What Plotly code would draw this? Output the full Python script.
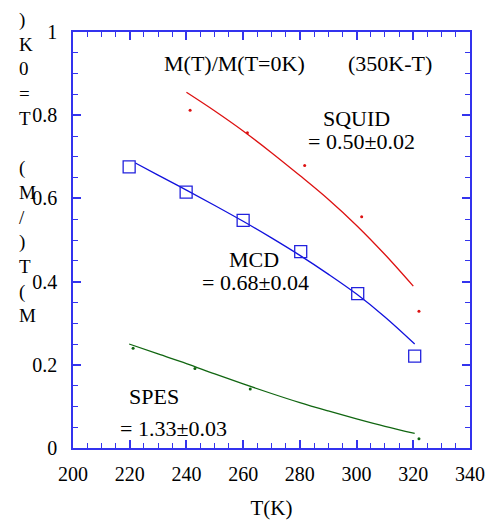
import plotly.graph_objects as go

# SQUID (red): fitted curve and scattered data dots
squid_line_T = [240, 250, 260, 270, 280, 290, 300, 310, 320]
squid_line_M = [0.855, 0.81, 0.762, 0.71, 0.655, 0.598, 0.535, 0.465, 0.389]
squid_dots_T = [241.3, 261.5, 281.7, 301.8, 322.0]
squid_dots_M = [0.812, 0.758, 0.679, 0.556, 0.329]

# MCD (blue): fitted curve and square markers
mcd_line_T = [222, 230, 240, 250, 260, 270, 280, 290, 300, 310, 320.5]
mcd_line_M = [0.685, 0.656, 0.62, 0.583, 0.545, 0.505, 0.463, 0.418, 0.37, 0.315, 0.25]
mcd_pts_T = [219.8, 239.9, 260.0, 280.3, 300.4, 320.5]
mcd_pts_M = [0.676, 0.615, 0.547, 0.472, 0.371, 0.221]

# SPES (green): fitted curve and data dots
spes_line_T = [219.8, 230, 240, 250, 260, 270, 280, 290, 300, 310, 320.5]
spes_line_M = [0.25, 0.226, 0.203, 0.178, 0.154, 0.131, 0.109, 0.089, 0.07, 0.052, 0.035]
spes_dots_T = [221.2, 243.0, 262.5, 322.0]
spes_dots_M = [0.240, 0.191, 0.142, 0.022]

x_ticks = [200, 220, 240, 260, 280, 300, 320, 340]
y_ticks = [0, 0.2, 0.4, 0.6, 0.8, 1]

# vertical, character-stacked y title as drawn in the reference (read bottom-up)
ytitle_chars = [")", "K", "0", "=", "T", "\u00a0", "(", "M", "/", ")", "T", "(", "M"]

FONT = "Times New Roman, Liberation Serif, DejaVu Serif, serif"
AXC = "#3333ee"

fig = go.Figure()
fig.add_trace(go.Scatter(x=squid_line_T, y=squid_line_M, mode="lines",
                         line=dict(color="#dd1111", width=1.3, shape="spline"), showlegend=False))
fig.add_trace(go.Scatter(x=squid_dots_T, y=squid_dots_M, mode="markers",
                         marker=dict(color="#dd1111", size=3), showlegend=False))
fig.add_trace(go.Scatter(x=mcd_line_T, y=mcd_line_M, mode="lines",
                         line=dict(color="#1111dd", width=1.3, shape="spline"), showlegend=False))
fig.add_trace(go.Scatter(x=mcd_pts_T, y=mcd_pts_M, mode="markers",
                         marker=dict(symbol="square-open", color="#2222dd", size=12,
                                     line=dict(width=1.3, color="#2222dd")), showlegend=False))
fig.add_trace(go.Scatter(x=spes_line_T, y=spes_line_M, mode="lines",
                         line=dict(color="#116611", width=1.3, shape="spline"), showlegend=False))
fig.add_trace(go.Scatter(x=spes_dots_T, y=spes_dots_M, mode="markers",
                         marker=dict(color="#116611", size=3), showlegend=False))

axis_common = dict(showline=True, linecolor=AXC, linewidth=1.5, mirror="allticks",
                   ticks="inside", tickcolor=AXC, ticklen=8, tickwidth=1.5,
                   showgrid=False, zeroline=False, automargin=False,
                   tickfont=dict(family=FONT, size=20, color="black"))

fig.update_xaxes(range=[200, 340], tickvals=x_ticks, ticklabelstandoff=7,
                 minor=dict(ticks="inside", dtick=5, ticklen=5, tickcolor=AXC, tickwidth=1.2),
                 title=dict(text="T(K)", font=dict(family=FONT, size=21, color="black"), standoff=17),
                 **axis_common)
fig.update_yaxes(range=[0, 1], tickvals=y_ticks, ticklabelstandoff=10,
                 minor=dict(ticks="inside", dtick=0.05, ticklen=5, tickcolor=AXC, tickwidth=1.2),
                 **axis_common)

ann_font = dict(family=FONT, size=22, color="black")
def ann(text, x, y):
    fig.add_annotation(text=text, x=x, y=y, xref="x", yref="y", showarrow=False,
                       font=ann_font, xanchor="center", yanchor="middle")

ann("M(T)/M(T=0K)", 257.1, 0.925)
ann("(350K-T)", 311.8, 0.925)
ann("SQUID", 300.1, 0.793)
ann("= 0.50±0.02", 301.6, 0.736)
ann("MCD", 263.8, 0.454)
ann("= 0.68±0.04", 264.5, 0.397)
ann("SPES", 228.6, 0.125)
ann("= 1.33±0.03", 235.6, 0.048)

fig.add_annotation(text="<br>".join(ytitle_chars), xref="paper", yref="paper",
                   x=-0.142, y=0.674, showarrow=False, xanchor="left", yanchor="middle",
                   align="left", font=dict(family=FONT, size=19, color="black"))

fig.update_layout(width=489, height=520, margin=dict(l=73, r=19, t=32, b=72),
                  plot_bgcolor="white", paper_bgcolor="white", showlegend=False)

fig.write_html("out.html")
